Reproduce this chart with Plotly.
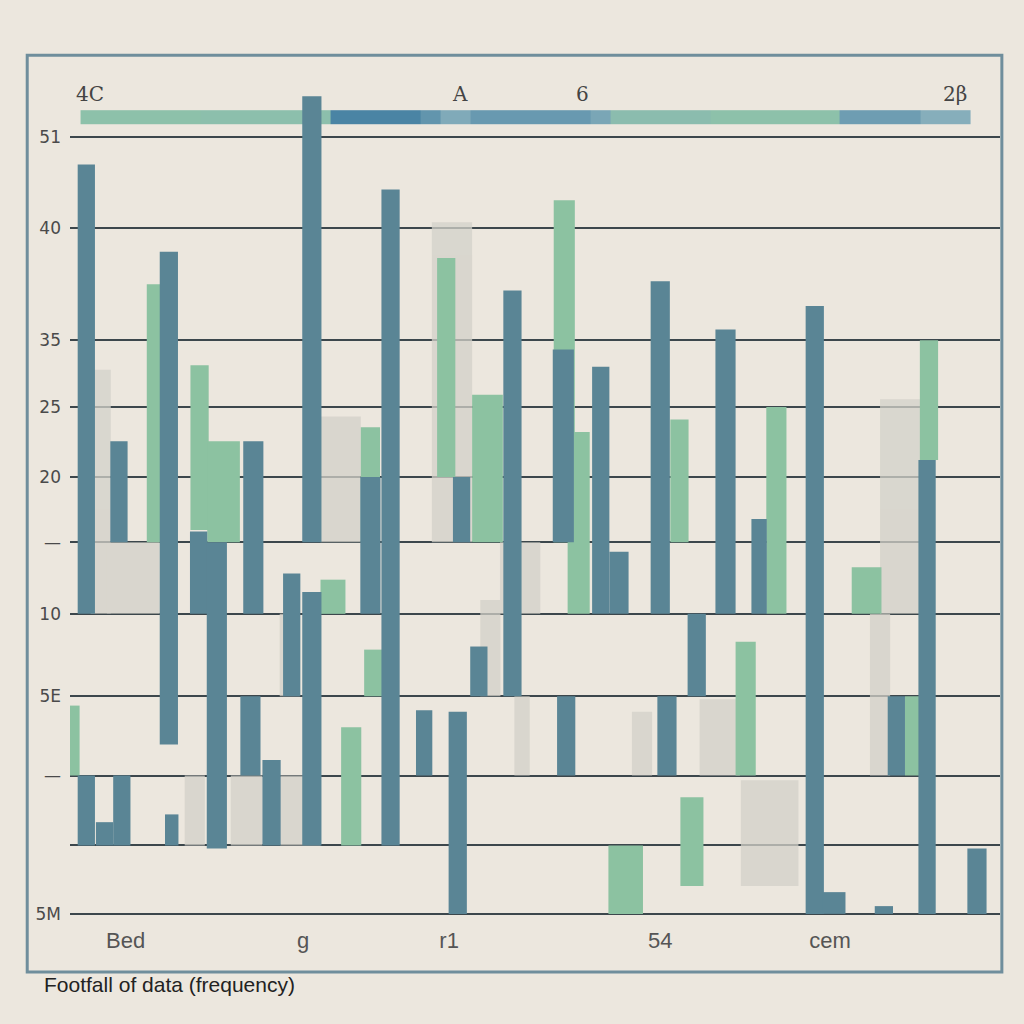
import plotly.graph_objects as go

# ---------------- data ----------------
dark_x    = [4.8, 4.8, 6.7, 8.2, 8.5, 13.4, 13.7, 16.5, 18.4, 21.9, 22.2, 24.1, 26.2, 28.3, 28.3, 34.4, 36.5, 40.0, 43.5, 43.9, 45.7, 49.2, 54.5, 54.8, 58.4, 60.3, 64.6, 65.3, 68.4, 71.4, 74.9, 80.7, 82.7, 87.9, 89.2, 92.4, 97.6]
dark_base = [19.3, 4.4, 4.4, 23.9, 4.4, 10.9, 4.4, 19.3, 4.2, 8.9, 19.3, 4.4, 14.0, 23.9, 4.4, 19.3, 4.4, 8.9, 0.0, 23.9, 14.0, 14.0, 23.9, 8.9, 19.3, 19.3, 19.3, 8.9, 14.0, 19.3, 19.3, 0.0, 0.0, 0.0, 8.9, 0.0, 0.0]
dark_top  = [48.2, 8.9, 5.9, 30.4, 8.9, 42.6, 6.4, 24.6, 23.9, 14.0, 30.4, 9.9, 21.9, 52.6, 20.7, 28.1, 46.6, 13.1, 13.0, 28.1, 17.2, 40.1, 36.3, 14.0, 35.2, 23.3, 40.7, 14.0, 19.3, 37.6, 25.4, 39.1, 1.4, 0.5, 14.0, 29.2, 4.2]
dark_w    = [1.8, 1.8, 1.8, 1.8, 1.8, 1.9, 1.4, 1.8, 2.1, 2.1, 2.1, 1.9, 1.8, 2.0, 2.0, 2.1, 1.9, 1.7, 1.9, 1.8, 1.8, 1.9, 2.2, 1.9, 1.8, 2.0, 2.0, 2.0, 1.9, 2.1, 1.6, 1.9, 2.4, 1.9, 1.8, 1.8, 2.0]

green_x    = [3.6, 11.8, 16.6, 19.1, 30.5, 32.4, 34.4, 34.7, 42.3, 46.6, 54.6, 56.1, 61.0, 67.9, 66.6, 73.5, 76.7, 86.1, 90.9, 92.6]
green_base = [8.9, 23.9, 24.7, 23.9, 19.3, 4.4, 23.9, 14.0, 28.1, 23.9, 23.9, 19.3, 0.0, 1.8, 23.9, 8.9, 19.3, 19.3, 8.9, 29.2]
green_top  = [13.4, 40.5, 35.3, 30.4, 21.5, 12.0, 31.3, 17.0, 42.2, 33.4, 45.9, 31.0, 4.4, 7.5, 31.8, 17.5, 32.6, 22.3, 14.0, 36.9]
green_w    = [1.0, 1.4, 1.9, 3.4, 2.6, 2.1, 2.0, 1.9, 1.9, 3.2, 2.2, 2.3, 3.6, 2.4, 1.9, 2.1, 2.1, 3.1, 1.6, 1.9]

gray_x    = [6.3, 9.7, 31.3, 42.9, 46.9, 50.2, 62.7, 70.8, 76.0, 89.6, 87.5, 26.0, 16.1, 21.5, 27.1, 50.0]
gray_base = [19.3, 19.3, 23.9, 23.9, 14.0, 8.9, 8.9, 8.9, 1.8, 19.3, 8.9, 14.0, 4.4, 4.4, 4.4, 19.3]
gray_top  = [35.0, 23.9, 32.0, 44.5, 20.2, 14.0, 13.0, 13.8, 8.6, 33.1, 19.3, 19.3, 8.9, 8.9, 8.9, 23.9]
gray_w    = [2.1, 5.5, 4.2, 4.2, 2.1, 1.6, 2.1, 4.2, 6.0, 4.2, 2.1, 2.1, 2.1, 3.3, 4.2, 4.2]

strip_edges = [4.2, 16.7, 30.2, 39.6, 41.7, 44.8, 57.3, 59.4, 69.8, 83.3, 91.7, 96.9]
strip_z     = [0.1, 0.15, 1.0, 0.8, 0.55, 0.75, 0.6, 0.2, 0.1, 0.7, 0.5]
strip_y     = [50.8, 51.7]

y_tickvals = [0.0, 4.4, 8.9, 14.0, 19.3, 23.9, 28.1, 32.6, 36.9, 44.1, 50.0]
y_ticktext = ["5M", "", "—", "5E", "10", "—", "20", "25", "35", "40", "51"]

x_tickvals = [8.9, 27.4, 42.6, 64.6, 82.3]
x_ticktext = ["Bed", "g", "r1", "54", "cem"]

top_label_x = [5.2, 43.75, 56.5, 95.3]
top_labels  = ["4C", "A", "6", "2β"]

title_text = "Footfall of data (frequency)"

# ---------------- figure ----------------
fig = go.Figure()

fig.add_trace(go.Heatmap(
    x=strip_edges, y=strip_y, z=[strip_z],
    colorscale=[[0, "#8fc6a6"], [0.5, "#86aebb"], [1, "#4a84a4"]],
    zmin=0, zmax=1, showscale=False, hoverinfo="skip"))

def diff(t, b):
    return [ti - bi for ti, bi in zip(t, b)]

fig.add_trace(go.Bar(x=gray_x, y=diff(gray_top, gray_base), base=gray_base, width=gray_w,
                     marker=dict(color="#d3d1c9", line=dict(width=0)), opacity=0.75))
fig.add_trace(go.Bar(x=green_x, y=diff(green_top, green_base), base=green_base, width=green_w,
                     marker=dict(color="#8cc2a1", line=dict(width=0))))
fig.add_trace(go.Bar(x=dark_x, y=diff(dark_top, dark_base), base=dark_base, width=dark_w,
                     marker=dict(color="#5a8595", line=dict(width=0))))

for xv, t in zip(top_label_x, top_labels):
    fig.add_annotation(x=xv, y=1.012, xref="x", yref="paper", text=t, showarrow=False,
                       font=dict(family="DejaVu Serif", size=20, color="#444444"))

fig.add_annotation(x=-0.030, y=-0.082, xref="paper", yref="paper", text=title_text,
                   showarrow=False, xanchor="left", yanchor="middle",
                   font=dict(family="Liberation Sans Narrow, Liberation Sans", size=21, color="#222222"))

fig.add_shape(type="rect", xref="paper", yref="paper", x0=-0.046, x1=1.002, y0=-0.0665, y1=1.042,
              line=dict(color="#6f8e9c", width=3), fillcolor="rgba(0,0,0,0)", layer="below")

fig.update_layout(
    width=1024, height=1024, autosize=False,
    margin=dict(l=70, r=24, t=90, b=107),
    paper_bgcolor="#ece7de", plot_bgcolor="#ece7de",
    barmode="overlay", showlegend=False,
    xaxis=dict(range=[3.1, 100], showgrid=False, zeroline=False, showline=False,
               tickvals=x_tickvals, ticktext=x_ticktext, ticks="",
               ticklabelstandoff=8,
               tickfont=dict(family="Liberation Sans Narrow, Liberation Sans", size=22, color="#555555")),
    yaxis=dict(range=[-0.2, 53.0], tickvals=y_tickvals, ticktext=y_ticktext, showgrid=True,
               gridcolor="#3c474c", gridwidth=1.5, zeroline=False, showline=False, ticks="",
               ticklabelstandoff=8,
               tickfont=dict(family="DejaVu Sans", size=17, color="#4a4a4a")),
)

fig.write_html("out.html", config={"displayModeBar": False},
               post_script="document.body.style.margin='0';document.body.style.background='#ece7de';")
